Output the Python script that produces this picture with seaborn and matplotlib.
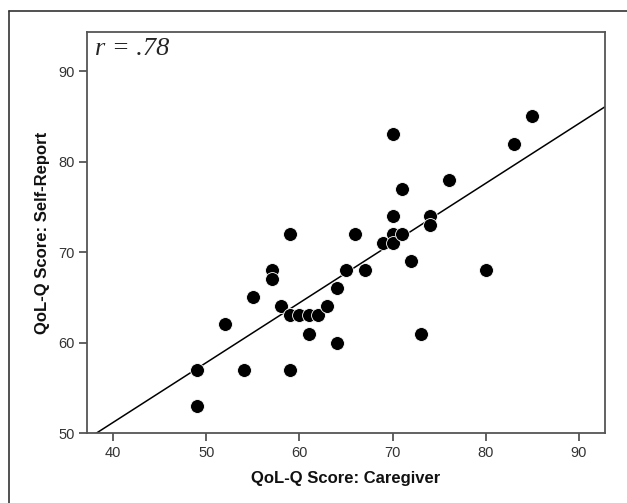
import numpy as np
import pandas as pd
import matplotlib
matplotlib.use('Agg')
import matplotlib.pyplot as plt
import seaborn as sns
from matplotlib.lines import Line2D

# data
caregiver = [49, 49, 52, 54, 55, 57, 57, 58, 59, 59, 59, 60, 61, 61, 62, 63, 64, 64,
             65, 66, 67, 69, 70, 70, 70, 70, 71, 71, 72, 73, 74, 74, 76, 80, 83, 85]
self_report = [57, 53, 62, 57, 65, 68, 67, 64, 72, 63, 57, 63, 63, 61, 63, 64, 66, 60,
               68, 72, 68, 71, 83, 74, 72, 71, 77, 72, 69, 61, 74, 73, 78, 68, 82, 85]
x_ticks = [40, 50, 60, 70, 80, 90]
y_ticks = [50, 60, 70, 80, 90]

df = pd.DataFrame({'caregiver': caregiver, 'self_report': self_report})

sns.set_style('ticks')
plt.rcParams['font.family'] = ['Liberation Sans', 'DejaVu Sans']

fig = plt.figure(figsize=(6.27, 5.03), dpi=100)
ax = fig.add_axes([0.1388, 0.139, 0.965 - 0.1388, 0.936 - 0.139])

ax.set_xlim(37.2, 92.8)
ax.set_ylim(50, 94.3)

# fit line across the whole x range
sns.regplot(data=df, x='caregiver', y='self_report', ax=ax, ci=None, truncate=False,
            scatter=False, line_kws={'color': 'black', 'lw': 1.1})
sns.scatterplot(data=df, x='caregiver', y='self_report', ax=ax, color='black',
                s=100, edgecolor='white', linewidth=0.6, zorder=3)

ax.set_xlim(37.2, 92.8)
ax.set_ylim(50, 94.3)
ax.set_xticks(x_ticks)
ax.set_yticks(y_ticks)

for sp in ax.spines.values():
    sp.set_visible(True)
    sp.set_color('#555555')
    sp.set_linewidth(1.3)
ax.tick_params(direction='out', length=6, width=1.3, color='#555555',
               labelsize=10.5, labelcolor='#333333', pad=3)

ax.set_xlabel('QoL-Q Score: Caregiver', fontsize=12, fontweight='bold', labelpad=8,
              color='#111111')
ax.set_ylabel('QoL-Q Score: Self-Report', fontsize=12, fontweight='bold', labelpad=6,
              color='#111111')

ax.text(0.016, 0.985, 'r = .78', transform=ax.transAxes, ha='left', va='top',
        fontsize=19, family='Liberation Serif', style='italic')

# outer frame around the chart region
fig.add_artist(Line2D([9 / 627, 9 / 627], [0, 1 - 11 / 503], color='#333333', lw=1.2))
fig.add_artist(Line2D([9 / 627, 1], [1 - 11 / 503, 1 - 11 / 503], color='#333333', lw=1.2))

fig.savefig('out.png', dpi=100)
